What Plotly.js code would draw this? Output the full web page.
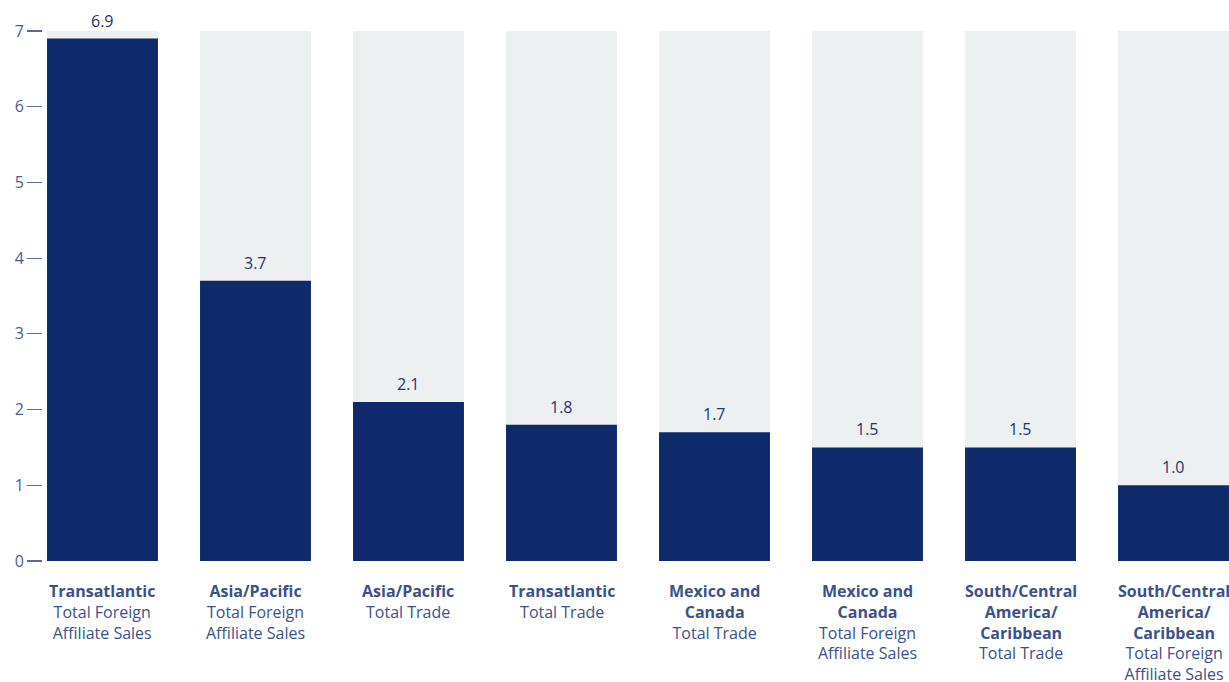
<!DOCTYPE html>
<html>
<head>
<meta charset="utf-8">
<script src="https://cdn.plot.ly/plotly-3.0.1.min.js"></script>
<style>html,body{margin:0;padding:0;background:#fff;}#chart{width:1229px;height:682px;}</style>
</head>
<body>
<div id="chart"></div>
<script>
const regions = ["Transatlantic", "Asia/Pacific", "Asia/Pacific", "Transatlantic", "Mexico and<br>Canada", "Mexico and<br>Canada", "South/Central<br>America/<br>Caribbean", "South/Central<br>America/<br>Caribbean"];
const measures = ["Total Foreign<br>Affiliate Sales", "Total Foreign<br>Affiliate Sales", "Total Trade", "Total Trade", "Total Trade", "Total Foreign<br>Affiliate Sales", "Total Trade", "Total Foreign<br>Affiliate Sales"];
const values = [6.9, 3.7, 2.1, 1.8, 1.7, 1.5, 1.5, 1.0];
const maxValue = 7;
const yTicks = [0, 1, 2, 3, 4, 5, 6, 7];

const idx = values.map((_, i) => i);
const navy = "#0f2a6b";
const labelBlue = "#3d5189";
const fam = "'Open Sans', sans-serif";

const bg = {
  type: "bar", x: idx, y: idx.map(() => maxValue),
  marker: {color: "#edf0f0"}, width: 0.725, hoverinfo: "skip", showlegend: false
};
const fg = {
  type: "bar", x: idx, y: values,
  marker: {color: navy}, width: 0.725, showlegend: false
};

const annotations = [];
idx.forEach(i => {
  annotations.push({
    x: i, y: values[i], xref: "x", yref: "y", text: values[i].toFixed(1),
    showarrow: false, yanchor: "bottom", yshift: 5,
    font: {family: fam, size: 16, color: "#1f3370"}
  });
  annotations.push({
    x: i, y: 0, xref: "x", yref: "paper", yanchor: "top", yshift: -17,
    text: "<b>" + regions[i] + "</b><br>" + measures[i],
    showarrow: false, align: "center",
    font: {family: fam, size: 16, color: labelBlue}
  });
});

const layout = {
  width: 1229, height: 682,
  margin: {l: 43, r: 0, t: 31, b: 121},
  paper_bgcolor: "#fff", plot_bgcolor: "#fff",
  barmode: "overlay",
  xaxis: {range: [-0.3888, 7.3627], showticklabels: false, showgrid: false, zeroline: false, showline: false, ticks: ""},
  yaxis: {range: [0, 7], tickvals: yTicks, showgrid: false, zeroline: false, showline: false,
    ticks: "outside", ticklen: 15, tickcolor: "#5a6a96", tickwidth: 1.2,
    tickfont: {family: fam, size: 16, color: "#4b5d8c"}},
  annotations: annotations,
  font: {family: fam}
};

Plotly.newPlot("chart", [bg, fg], layout, {displayModeBar: false, staticPlot: true});
</script>
</body>
</html>
